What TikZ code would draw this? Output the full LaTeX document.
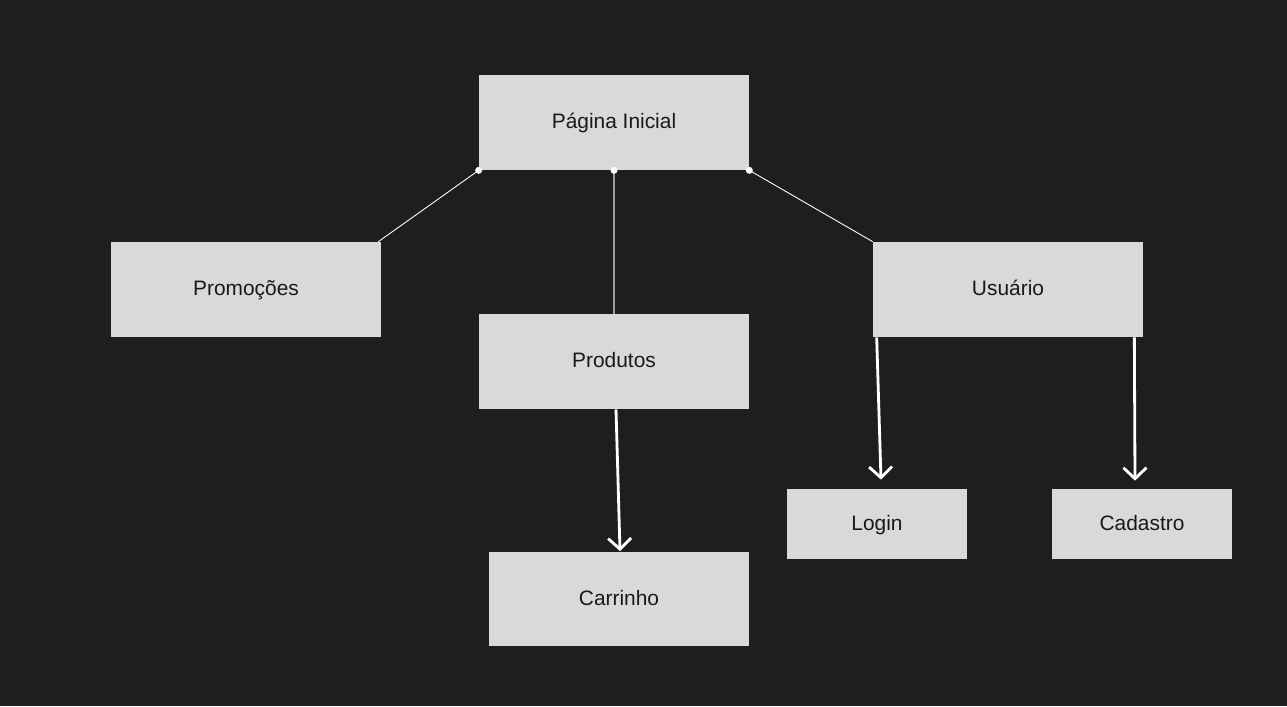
\documentclass[tikz,border=0pt]{standalone}
\usepackage{fontspec}
\setmainfont{Liberation Sans}
\usetikzlibrary{arrows.meta}
\definecolor{bgdark}{HTML}{1E1E1E}
\definecolor{boxgray}{HTML}{D9D9D9}
\definecolor{midgray}{HTML}{9A9A9A}
\tikzset{
    page/.style={fill=boxgray, draw=none, minimum width=5.4cm, minimum height=1.9cm, inner sep=0pt, font=\fontsize{11.9}{13}\selectfont, text=black!90, text height=1.6ex, text depth=0.3ex},
    smallpage/.style={page, minimum width=3.6cm, minimum height=1.4cm},
    link/.style={draw=white, line width=0.5pt},
    flow/.style={draw=white, line width=1.6pt, -{Straight Barb[length=2.2mm, width=4.6mm, line width=1.6pt]}}
}
\begin{document}
\begin{tikzpicture}[x=0.02cm, y=-0.02cm]
    % Background
    \fill[bgdark] (0,0) rectangle (1287,706);
    \useasboundingbox (0,0) rectangle (1287,706);

    % Pages
    \node[page] (home) at (614,122.5) {Página Inicial};
    \node[page] (promo) at (246,289.5) {Promoções};
    \node[page] (prod) at (614,361.5) {Produtos};
    \node[page] (user) at (1008,289.5) {Usuário};
    \node[smallpage] (login) at (877,524) {Login};
    \node[smallpage] (signup) at (1142,524) {Cadastro};
    \node[page, minimum width=5.2cm] (cart) at (619,599) {Carrinho};

    % Links from the home page
    \draw[link] (home.south west) -- ([xshift=-0.06cm]promo.north east);
    \draw[midgray, line width=1.2pt] (home.south) -- (prod.north);
    \draw[link] (home.south east) -- (user.north west);
    \foreach \c in {home.south west, home.south, home.south east}
        \fill[white] (\c) circle (0.07cm);

    % Flows
    \draw[flow] ([xshift=0.04cm]prod.south) -- ([xshift=0.02cm]cart.north);
    \draw[flow] ([xshift=0.08cm]user.south west) -- ([xshift=0.08cm, yshift=0.18cm]login.north);
    \draw[flow] ([xshift=-0.18cm]user.south east) -- ([xshift=-0.14cm, yshift=0.16cm]signup.north);
\end{tikzpicture}
\end{document}
